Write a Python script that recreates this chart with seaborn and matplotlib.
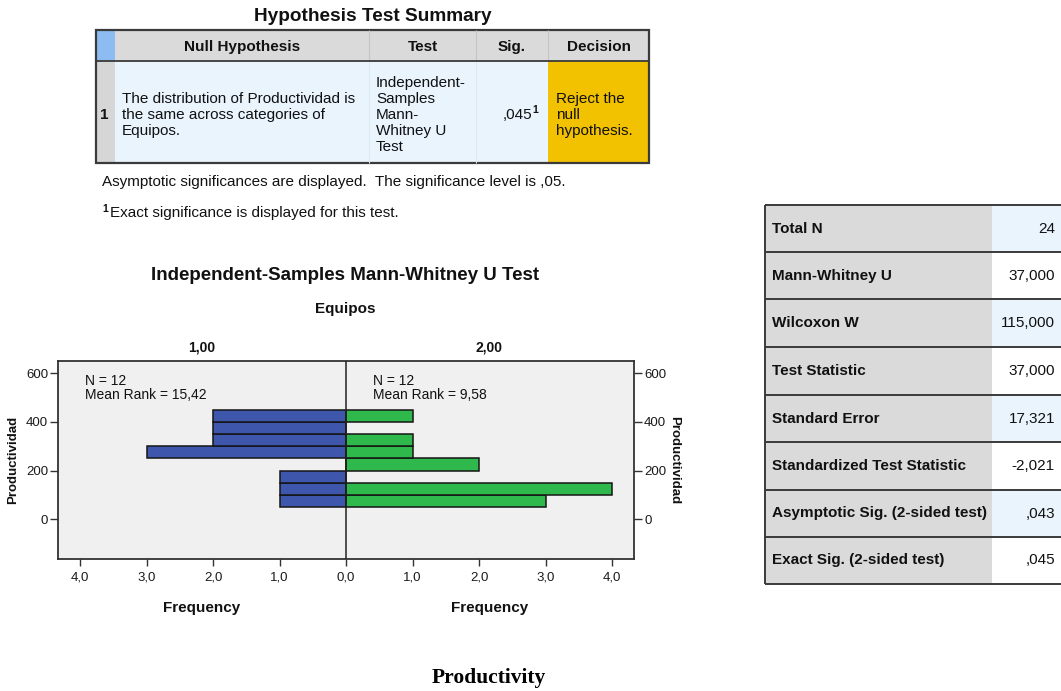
import numpy as np
import matplotlib
matplotlib.use("Agg")
import matplotlib.pyplot as plt
from matplotlib.patches import Rectangle
import seaborn as sns

# ---- Productividad histogram (bin width 50) per Equipos group ----
bin_edges = [50, 100, 150, 200, 250, 300, 350, 400, 450]
counts_equipo_1 = [1, 1, 1, 0, 3, 2, 2, 2]
counts_equipo_2 = [3, 4, 0, 2, 1, 1, 0, 1]
group_labels = ["1,00", "2,00"]
group_n = [12, 12]
mean_ranks = ["15,42", "9,58"]
freq_ticks = [-4, -3, -2, -1, 0, 1, 2, 3, 4]
prod_ticks = [0, 200, 400, 600]

# ---- Hypothesis test summary ----
summary_title = "Hypothesis Test Summary"
summary_columns = ["Null Hypothesis", "Test", "Sig.", "Decision"]
null_hypothesis_lines = ["The distribution of Productividad is",
                         "the same across categories of", "Equipos."]
test_lines = ["Independent-", "Samples", "Mann-", "Whitney U", "Test"]
sig_value = ",045"
decision_lines = ["Reject the", "null", "hypothesis."]
footnote_main = "Asymptotic significances are displayed.  The significance level is ,05."
footnote_exact = "Exact significance is displayed for this test."

# ---- Test statistics ----
stat_labels = ["Total N", "Mann-Whitney U", "Wilcoxon W", "Test Statistic",
               "Standard Error", "Standardized Test Statistic",
               "Asymptotic Sig. (2-sided test)", "Exact Sig. (2-sided test)"]
stat_values = ["24", "37,000", "115,000", "37,000", "17,321", "-2,021", ",043", ",045"]

sns.set_style("white")
plt.rcParams["font.family"] = ["Liberation Sans", "DejaVu Sans"]
plt.rcParams["text.color"] = "#111111"

BLUE = "#3f56ad"
GREEN = "#2fb84b"
PANEL = "#f0f0f0"
HEAD_GREY = "#dadada"
CELL_BLUE = "#e9f4fd"
GOLD = "#f2c100"
EDGE = "#3a3a3a"

W, H = 1061, 691
fig = plt.figure(figsize=(W / 100, H / 100), dpi=100)
fig.patch.set_facecolor("white")

# pixel-space layer for tables and free text
lay = fig.add_axes([0, 0, 1, 1], zorder=0)
lay.set_xlim(0, W)
lay.set_ylim(H, 0)
lay.axis("off")


def box(x0, y0, x1, y1, fc, ec="none", lw=0.0):
    lay.add_patch(Rectangle((x0, y0), x1 - x0, y1 - y0, facecolor=fc,
                            edgecolor=ec, linewidth=lw, clip_on=False))


def hline(x0, x1, y, color=EDGE, lw=1.2):
    lay.plot([x0, x1], [y, y], color=color, lw=lw, solid_capstyle="butt", clip_on=False)


def vline(x, y0, y1, color=EDGE, lw=1.2):
    lay.plot([x, x], [y0, y1], color=color, lw=lw, solid_capstyle="butt", clip_on=False)


# ---------------- Hypothesis Test Summary table ----------------
cx = [96, 115, 369, 476, 548, 649]
ry = [30, 61, 162.5]
lay.text(372.5, 16, summary_title, ha="center", va="center", fontsize=13.7, fontweight="bold")
box(cx[0], ry[0], cx[1], ry[1], "#8cbcf2")
box(cx[1], ry[0], cx[5], ry[1], HEAD_GREY)
box(cx[0], ry[1], cx[1], ry[2], "#d6d6d6")
box(cx[1], ry[1], cx[4], ry[2], CELL_BLUE)
box(cx[4], ry[1], cx[5], ry[2], GOLD)
for x in cx[2:5]:
    vline(x, ry[0], ry[1], color="#c4c4c4", lw=0.8)
for x in cx[2:4]:
    vline(x, ry[1], ry[2], color="#dde9f3", lw=0.8)
hline(cx[0], cx[5], ry[1], lw=1.3)
box(cx[0], ry[0], cx[5], ry[2], "none", ec=EDGE, lw=1.6)

head_x = [242, 423, 512, 599]
for label, x in zip(summary_columns, head_x):
    lay.text(x, 47, label, ha="center", va="center", fontsize=11, fontweight="bold")

lay.text(104, 114.5, "1", ha="center", va="center", fontsize=11, fontweight="bold")
line_step = 16
for i, s in enumerate(null_hypothesis_lines):
    lay.text(122, 99 + i * line_step, s, ha="left", va="center", fontsize=11)
for i, s in enumerate(test_lines):
    lay.text(376, 83 + i * line_step, s, ha="left", va="center", fontsize=11)
lay.text(532, 115, sig_value, ha="right", va="center", fontsize=11)
lay.text(532.5, 110, "1", ha="left", va="center", fontsize=7.5, fontweight="bold")
for i, s in enumerate(decision_lines):
    lay.text(556, 99 + i * line_step, s, ha="left", va="center", fontsize=11)

lay.text(102, 182, footnote_main, ha="left", va="center", fontsize=11)
lay.text(102, 209, "1", ha="left", va="center", fontsize=7.5, fontweight="bold")
lay.text(110, 213, footnote_exact, ha="left", va="center", fontsize=11)

# ---------------- Test statistics table ----------------
tx = [765, 992, 1075]
row_y = [205, 252, 299, 347, 395, 442, 490, 537, 583.5]
for i, (lab, val) in enumerate(zip(stat_labels, stat_values)):
    y0, y1 = row_y[i], row_y[i + 1]
    box(tx[0], y0, tx[1], y1, HEAD_GREY)
    box(tx[1], y0, tx[2], y1, CELL_BLUE if i % 2 == 0 else "white")
    ym = (y0 + y1) / 2
    lay.text(771.5, ym, lab, ha="left", va="center", fontsize=11, fontweight="bold")
    lay.text(1055, ym, val, ha="right", va="center", fontsize=11)
for y in row_y:
    hline(tx[0], tx[2], y, lw=1.4)
vline(tx[0], row_y[0], row_y[-1], lw=1.4)

# ---------------- Mann-Whitney U chart ----------------
lay.text(345, 275, "Independent-Samples Mann-Whitney U Test", ha="center", va="center",
         fontsize=13.5, fontweight="bold")
lay.text(345, 309, "Equipos", ha="center", va="center", fontsize=11, fontweight="bold")

ax_l, ax_r, ax_t, ax_b = 58, 634.3, 361, 559.3
ax = fig.add_axes([ax_l / W, 1 - ax_b / H, (ax_r - ax_l) / W, (ax_b - ax_t) / H], zorder=2)
ax.set_facecolor(PANEL)

bin_mid = [(a + b) / 2 for a, b in zip(bin_edges[:-1], bin_edges[1:])]
sns.histplot(y=bin_mid, weights=[-c for c in counts_equipo_1], bins=bin_edges,
             color=BLUE, alpha=1, edgecolor="#151515", linewidth=1.1, ax=ax)
sns.histplot(y=bin_mid, weights=counts_equipo_2, bins=bin_edges,
             color=GREEN, alpha=1, edgecolor="#151515", linewidth=1.1, ax=ax)
ax.axvline(0, color="#222222", lw=1.1, zorder=5)

ax.set_xlim(-4.33, 4.33)
ax.set_ylim(-164, 650)
ax.set_xticks(freq_ticks)
ax.set_xticklabels([f"{abs(v):.1f}".replace(".", ",") for v in freq_ticks])
ax.set_yticks(prod_ticks)
ax.set_yticklabels([str(v) for v in prod_ticks])
ax.set_xlabel("")
ax.set_ylabel("")
ax.yaxis.set_ticks_position("both")
ax.tick_params(axis="y", labelright=True, length=6, width=1, pad=1, labelsize=9.5,
               colors="#333333", labelcolor="#1a1a1a")
ax.tick_params(axis="x", bottom=True, length=5, width=1, pad=3.5, labelsize=9.5,
               colors="#333333", labelcolor="#1a1a1a")
for sp in ax.spines.values():
    sp.set_visible(True)
    sp.set_color("#333333")
    sp.set_linewidth(1.3)

half_x = [202, 489.5]
note_x = [85, 373]
for g, hx, nx, n, mr in zip(group_labels, half_x, note_x, group_n, mean_ranks):
    lay.text(hx, 347, g, ha="center", va="center", fontsize=10, fontweight="bold")
    lay.text(hx, 608, "Frequency", ha="center", va="center", fontsize=11, fontweight="bold")
    lay.text(nx, 381, f"N = {n}", ha="left", va="center", fontsize=10, zorder=6)
    lay.text(nx, 395, f"Mean Rank = {mr}", ha="left", va="center", fontsize=10, zorder=6)

lay.text(13, 460, "Productividad", ha="center", va="center", rotation=90,
         fontsize=9.5, fontweight="bold")
lay.text(674, 460, "Productividad", ha="center", va="center", rotation=-90,
         fontsize=9.5, fontweight="bold")

lay.set_zorder(3)
lay.patch.set_alpha(0)

lay.text(488.5, 678, "Productivity", ha="center", va="center", fontsize=15.5, fontweight="bold",
         family=["Liberation Serif", "DejaVu Serif"], color="black")

fig.savefig("out.png", dpi=100, facecolor="white")
